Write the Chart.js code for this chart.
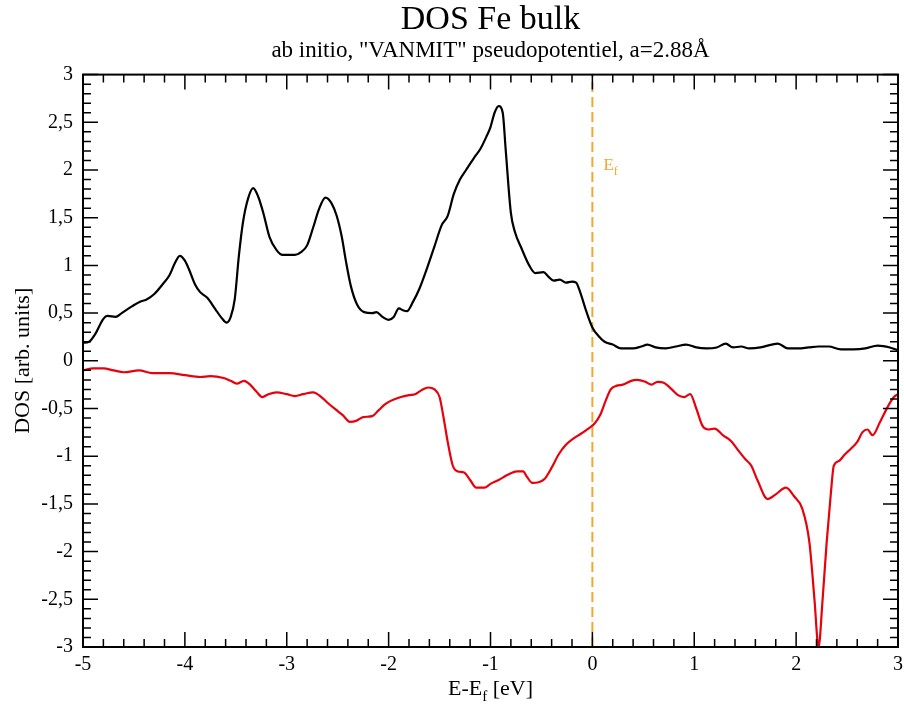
<!DOCTYPE html>
<html>
<head>
<meta charset="utf-8">
<script src="https://cdn.jsdelivr.net/npm/chart.js@4/dist/chart.umd.min.js"></script>
<style>
  body { margin: 0; background: #fff; }
</style>
</head>
<body>
<canvas id="dos" width="904" height="708"></canvas>
<script>
// spin up (black) and spin down (red) DOS
const energyUp = [-5.00,-4.94,-4.88,-4.80,-4.76,-4.68,-4.62,-4.52,-4.44,-4.38,-4.30,-4.22,-4.15,-4.10,-4.05,-4.00,-3.96,-3.90,-3.85,-3.78,-3.70,-3.64,-3.59,-3.55,-3.51,-3.47,-3.43,-3.38,-3.33,-3.28,-3.23,-3.17,-3.10,-3.04,-2.92,-2.86,-2.80,-2.74,-2.68,-2.62,-2.56,-2.51,-2.46,-2.42,-2.37,-2.31,-2.24,-2.16,-2.12,-2.06,-2.00,-1.95,-1.90,-1.86,-1.82,-1.76,-1.70,-1.62,-1.55,-1.48,-1.42,-1.36,-1.30,-1.24,-1.16,-1.10,-1.04,-1.00,-0.96,-0.92,-0.88,-0.85,-0.80,-0.76,-0.70,-0.62,-0.56,-0.48,-0.43,-0.38,-0.32,-0.26,-0.20,-0.16,-0.12,-0.06,0.00,0.06,0.12,0.20,0.28,0.40,0.48,0.54,0.62,0.72,0.82,0.92,1.02,1.12,1.22,1.31,1.38,1.46,1.54,1.65,1.76,1.82,1.92,2.02,2.12,2.22,2.32,2.44,2.56,2.68,2.80,2.92,3.00];
const dosUp = [0.19,0.20,0.28,0.44,0.47,0.46,0.50,0.57,0.62,0.64,0.70,0.80,0.90,1.02,1.10,1.05,0.96,0.80,0.72,0.66,0.54,0.45,0.40,0.46,0.65,1.10,1.45,1.70,1.81,1.72,1.55,1.30,1.16,1.11,1.11,1.14,1.21,1.40,1.60,1.71,1.65,1.52,1.30,1.05,0.78,0.59,0.51,0.50,0.51,0.46,0.43,0.46,0.55,0.53,0.52,0.62,0.75,0.98,1.20,1.42,1.52,1.75,1.90,2.00,2.13,2.22,2.35,2.45,2.60,2.67,2.60,2.20,1.55,1.35,1.19,1.00,0.92,0.93,0.88,0.84,0.85,0.82,0.83,0.82,0.72,0.52,0.35,0.26,0.20,0.17,0.13,0.13,0.15,0.17,0.14,0.13,0.15,0.17,0.14,0.13,0.14,0.18,0.14,0.15,0.13,0.14,0.17,0.18,0.13,0.13,0.14,0.15,0.15,0.12,0.12,0.13,0.16,0.14,0.11];

const energyDown = [-5.00,-4.90,-4.80,-4.70,-4.60,-4.45,-4.32,-4.15,-4.00,-3.85,-3.75,-3.62,-3.55,-3.49,-3.42,-3.36,-3.30,-3.24,-3.18,-3.10,-3.00,-2.92,-2.84,-2.74,-2.66,-2.60,-2.52,-2.45,-2.38,-2.32,-2.25,-2.16,-2.10,-2.04,-1.98,-1.88,-1.80,-1.74,-1.68,-1.61,-1.55,-1.50,-1.46,-1.42,-1.37,-1.32,-1.26,-1.20,-1.14,-1.06,-1.00,-0.92,-0.84,-0.74,-0.68,-0.64,-0.59,-0.52,-0.47,-0.40,-0.33,-0.26,-0.18,-0.12,-0.04,0.02,0.08,0.13,0.18,0.24,0.30,0.38,0.44,0.52,0.58,0.64,0.70,0.78,0.84,0.90,0.96,1.02,1.08,1.14,1.20,1.28,1.36,1.44,1.50,1.56,1.62,1.72,1.80,1.90,1.98,2.06,2.13,2.18,2.22,2.26,2.30,2.34,2.37,2.42,2.48,2.54,2.60,2.65,2.70,2.75,2.82,2.90,2.96,3.00];
const dosDown = [-0.10,-0.08,-0.08,-0.10,-0.12,-0.10,-0.13,-0.13,-0.15,-0.17,-0.16,-0.18,-0.21,-0.24,-0.21,-0.25,-0.32,-0.38,-0.35,-0.33,-0.35,-0.37,-0.35,-0.33,-0.38,-0.44,-0.51,-0.57,-0.64,-0.63,-0.59,-0.58,-0.52,-0.46,-0.42,-0.38,-0.36,-0.35,-0.31,-0.28,-0.30,-0.38,-0.60,-0.85,-1.10,-1.16,-1.17,-1.25,-1.33,-1.33,-1.29,-1.25,-1.20,-1.16,-1.16,-1.22,-1.28,-1.27,-1.24,-1.12,-0.98,-0.88,-0.81,-0.77,-0.71,-0.66,-0.56,-0.42,-0.30,-0.26,-0.25,-0.21,-0.20,-0.22,-0.25,-0.22,-0.23,-0.30,-0.36,-0.38,-0.35,-0.50,-0.68,-0.72,-0.71,-0.78,-0.84,-0.95,-1.03,-1.10,-1.25,-1.45,-1.40,-1.33,-1.42,-1.55,-1.90,-2.50,-3.00,-2.50,-1.90,-1.40,-1.10,-1.05,-0.98,-0.92,-0.85,-0.75,-0.72,-0.78,-0.65,-0.48,-0.38,-0.35];

const fermiEnergy = 0;

const serif = '"Liberation Serif", "Times New Roman", serif';
const fermiColor = '#f0a830';

const toPoints = (xs, ys) => ys.map((y, i) => ({ x: xs[i], y: y }));

// inward ticks on all four sides + frame, like the xmgrace look
const frameTicks = {
  id: 'frameTicks',
  afterDatasetsDraw(chart) {
    const { ctx, chartArea: a, scales: { x, y } } = chart;
    ctx.save();
    ctx.strokeStyle = '#000';
    ctx.lineWidth = 1.5;
    ctx.beginPath();
    for (let i = 0; i <= 40; i++) {
      const v = -5 + i * 0.2;
      const px = x.getPixelForValue(v);
      const len = i % 5 === 0 ? 15 : 8;
      ctx.moveTo(px, a.bottom); ctx.lineTo(px, a.bottom - len);
      ctx.moveTo(px, a.top); ctx.lineTo(px, a.top + len);
    }
    for (let i = 0; i <= 60; i++) {
      const v = -3 + i * 0.1;
      const py = y.getPixelForValue(v);
      const len = i % 5 === 0 ? 15 : 8;
      ctx.moveTo(a.left, py); ctx.lineTo(a.left + len, py);
      ctx.moveTo(a.right, py); ctx.lineTo(a.right - len, py);
    }
    ctx.stroke();
    ctx.lineWidth = 2;
    ctx.strokeRect(a.left, a.top, a.right - a.left, a.bottom - a.top);

    // E_f label next to the dashed line
    const fx = x.getPixelForValue(fermiEnergy) + 11;
    const fy = y.getPixelForValue(2.0);
    ctx.fillStyle = fermiColor;
    ctx.textBaseline = 'alphabetic';
    ctx.textAlign = 'left';
    ctx.font = '17px ' + serif;
    ctx.fillText('E', fx, fy);
    const ew = ctx.measureText('E').width;
    ctx.font = '12px ' + serif;
    ctx.fillText('f', fx + ew, fy + 5);

    // x axis title with subscript
    ctx.fillStyle = '#000';
    const big = '22px ' + serif, small = '15px ' + serif;
    ctx.font = big;
    const w1 = ctx.measureText('E-E').width;
    const w3 = ctx.measureText(' [eV]').width;
    ctx.font = small;
    const w2 = ctx.measureText('f').width;
    let cx = (a.left + a.right) / 2 - (w1 + w2 + w3) / 2;
    const base = 695;
    ctx.font = big;
    ctx.fillText('E-E', cx, base);
    ctx.font = small;
    ctx.fillText('f', cx + w1, base + 6);
    ctx.font = big;
    ctx.fillText(' [eV]', cx + w1 + w2, base);
    ctx.restore();
  }
};

new Chart(document.getElementById('dos'), {
  type: 'line',
  data: {
    datasets: [
      {
        label: 'up',
        data: toPoints(energyUp, dosUp),
        borderColor: '#000',
        borderWidth: 2.2,
        pointRadius: 0,
        cubicInterpolationMode: 'monotone'
      },
      {
        label: 'down',
        data: toPoints(energyDown, dosDown),
        borderColor: '#e8000b',
        borderWidth: 2.2,
        pointRadius: 0,
        cubicInterpolationMode: 'monotone'
      },
      {
        label: 'Ef',
        data: [{ x: fermiEnergy, y: -3 }, { x: fermiEnergy, y: 3 }],
        borderColor: fermiColor,
        borderWidth: 2,
        borderDash: [10, 5],
        pointRadius: 0
      }
    ]
  },
  options: {
    responsive: false,
    animation: false,
    layout: { padding: { left: 0, right: 6, top: 0, bottom: 0 } },
    plugins: {
      legend: { display: false },
      tooltip: { enabled: false },
      title: {
        display: true,
        text: 'DOS Fe bulk',
        fullSize: false,
        color: '#000',
        font: { family: serif, size: 34, weight: 'normal', lineHeight: 1.0 },
        padding: { top: 3, bottom: 0 }
      },
      subtitle: {
        display: true,
        text: 'ab initio, "VANMIT" pseudopotentiel, a=2.88Å',
        fullSize: false,
        color: '#000',
        font: { family: serif, size: 23, lineHeight: 1.2 },
        padding: { top: 0, bottom: 10 }
      }
    },
    scales: {
      x: {
        type: 'linear',
        min: -5,
        max: 3,
        grid: { display: false, drawTicks: false },
        border: { display: false },
        ticks: {
          stepSize: 1,
          padding: 6,
          color: '#000',
          font: { family: serif, size: 20 }
        },
        afterFit: (s) => { s.height = 61; s.paddingRight = 0; s.paddingLeft = 0; }
      },
      y: {
        min: -3,
        max: 3,
        grid: { display: false, drawTicks: false },
        border: { display: false },
        ticks: {
          stepSize: 0.5,
          padding: 10,
          color: '#000',
          font: { family: serif, size: 20 },
          callback: (v) => String(v).replace('.', ',')
        },
        title: {
          display: true,
          text: 'DOS [arb. units]',
          color: '#000',
          font: { family: serif, size: 22 },
          padding: { top: 10, bottom: 0 }
        },
        afterFit: (s) => { s.width = 83; }
      }
    }
  },
  plugins: [frameTicks]
});
</script>
</body>
</html>
